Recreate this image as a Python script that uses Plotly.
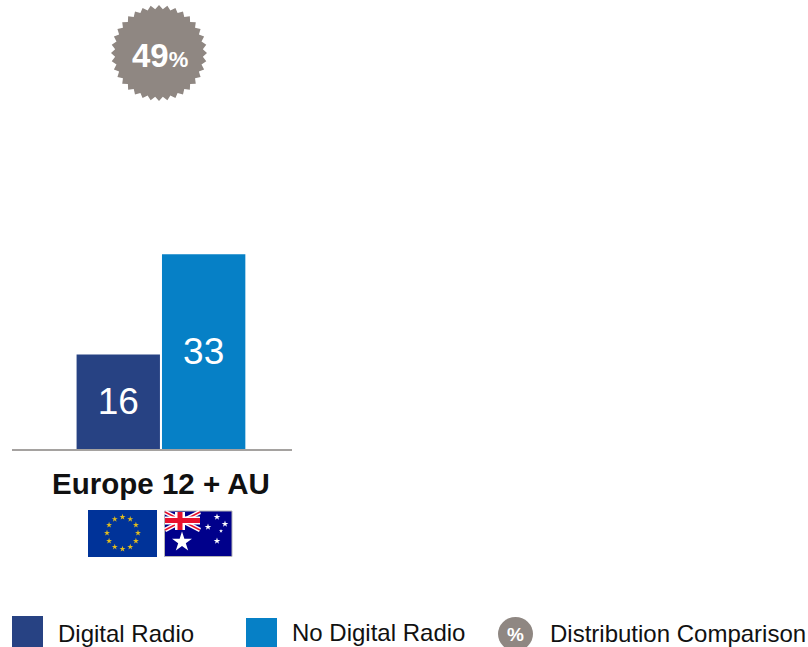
import math
import plotly.graph_objects as go

categories = ["Europe 12 + AU"]
digital_radio = [16]
no_digital_radio = [33]
distribution_comparison = [49]
legend_labels = ["Digital Radio", "No Digital Radio", "Distribution Comparison"]

W, H = 808, 647
NAVY, BLUE, GREY = "#274283", "#0680C6", "#8F8782"
FONT = "Liberation Sans, Arial, sans-serif"

fig = go.Figure()
label_font = dict(family=FONT, size=37, color="white")
bar_common = dict(x=categories, textposition="inside", insidetextanchor="middle",
                  textangle=0, insidetextfont=label_font, hoverinfo="skip",
                  showlegend=False, cliponaxis=False)
fig.add_bar(name=legend_labels[0], y=digital_radio, text=digital_radio,
            marker=dict(color=NAVY, line=dict(width=0)), **bar_common)
fig.add_bar(name=legend_labels[1], y=no_digital_radio, text=no_digital_radio,
            marker=dict(color=BLUE, line=dict(width=0)), **bar_common)


def px_shape(kind, x0, y0, x1, y1, color, line=None, lw=0):
    return dict(type=kind, xref="x2", yref="y2", x0=x0, y0=y0, x1=x1, y1=y1,
                fillcolor=color, line=dict(color=line or color, width=lw), layer="below")


def line(x0, y0, x1, y1, color, lw):
    return dict(type="line", xref="x2", yref="y2", x0=x0, y0=y0, x1=x1, y1=y1,
                line=dict(color=color, width=lw), layer="below")


def burst(cx, cy, r_out, r_in, n):
    pts = []
    for i in range(2 * n):
        r = r_out if i % 2 == 0 else r_in
        a = math.pi * i / n - math.pi / 2
        pts.append(f"{cx + r * math.cos(a):.2f},{cy + r * math.sin(a):.2f}")
    return dict(type="path", xref="x2", yref="y2", path="M" + "L".join(pts) + "Z",
                fillcolor=GREY, line=dict(width=0), layer="below")


shapes = [burst(159, 53, 48, 44, 36)]
# legend swatches and badge
shapes.append(px_shape("rect", 12, 616, 43, 647, NAVY))
shapes.append(px_shape("rect", 246, 618, 277, 647, BLUE))
shapes.append(px_shape("circle", 498, 617, 533, 651, GREY))
# EU flag
shapes.append(px_shape("rect", 88, 510, 157, 557, "#003399"))
# AU flag
shapes.append(px_shape("rect", 164.5, 511, 232, 556.5, "#00008B", "#B5B5B5", 1))
shapes.append(line(165, 512, 200, 530, "white", 4.5))
shapes.append(line(165, 530, 200, 512, "white", 4.5))
shapes.append(line(165, 512, 200, 530, "#E8112D", 1.5))
shapes.append(line(165, 530, 200, 512, "#E8112D", 1.5))
shapes.append(px_shape("rect", 165, 516.5, 200, 524.5, "white"))
shapes.append(px_shape("rect", 175, 512, 185, 530, "white"))
shapes.append(px_shape("rect", 165, 518, 200, 523, "#E8112D"))
shapes.append(px_shape("rect", 177.5, 512, 182.5, 530, "#E8112D"))

eu_x = [122.5 + 15.5 * math.cos(2 * math.pi * i / 12) for i in range(12)]
eu_y = [533 + 16 * math.sin(2 * math.pi * i / 12) for i in range(12)]
fig.add_scatter(x=eu_x, y=eu_y, xaxis="x2", yaxis="y2", mode="markers", hoverinfo="skip",
                showlegend=False,
                marker=dict(symbol="star", size=4.5, color="#E0BC1E", opacity=1, line=dict(width=0)))
fig.add_scatter(x=[182, 217, 208, 225, 221, 217], y=[542, 517, 527, 524, 531, 541],
                xaxis="x2", yaxis="y2", mode="markers", hoverinfo="skip", showlegend=False,
                marker=dict(symbol="star", size=[15, 5, 5, 5, 3, 5], color="white",
                            opacity=1, line=dict(width=0)))


def text(x, y, s, size, color="#111111", anchor="left"):
    return dict(xref="x2", yref="y2", x=x, y=y, text=s, showarrow=False, xanchor=anchor,
                yanchor="middle", font=dict(family=FONT, size=size, color=color))


annotations = [
    text(159.5, 55, f'<b>{distribution_comparison[0]}<span style="font-size:22px">%</span></b>',
         33, "white", "center"),
    text(56, 633.5, legend_labels[0], 24),
    text(290, 632.5, legend_labels[1], 24),
    text(515.5, 634, "<b>%</b>", 19, "white", "center"),
    text(548, 633.5, legend_labels[2], 24),
]

fig.update_layout(
    width=W, height=H, margin=dict(l=0, r=0, t=0, b=0, pad=0), autosize=False,
    paper_bgcolor="white", plot_bgcolor="rgba(0,0,0,0)",
    barmode="group", bargap=0.39, bargroupgap=0.024, showlegend=False, hovermode=False,
    shapes=shapes, annotations=annotations,
    xaxis=dict(domain=[12 / W, 292 / W], range=[-0.532, 0.468], type="category",
               tickmode="array", tickvals=categories,
               ticktext=[f"<b>{c}</b>" for c in categories],
               tickfont=dict(family=FONT, size=29.5, color="#111111"),
               ticks="outside", ticklen=8, tickcolor="rgba(0,0,0,0)",
               showline=True, linecolor="#A5A2A0", linewidth=2, showgrid=False, zeroline=False),
    yaxis=dict(domain=[198 / H, 1], range=[0, 449 / 5.9], visible=False),
    xaxis2=dict(domain=[0, 1], range=[0, W], visible=False, anchor="y2"),
    yaxis2=dict(domain=[0, 1], range=[H, 0], visible=False, anchor="x2"),
)
fig.write_html("out.html", config=dict(displayModeBar=False),
               post_script="document.body.style.margin='0';")
